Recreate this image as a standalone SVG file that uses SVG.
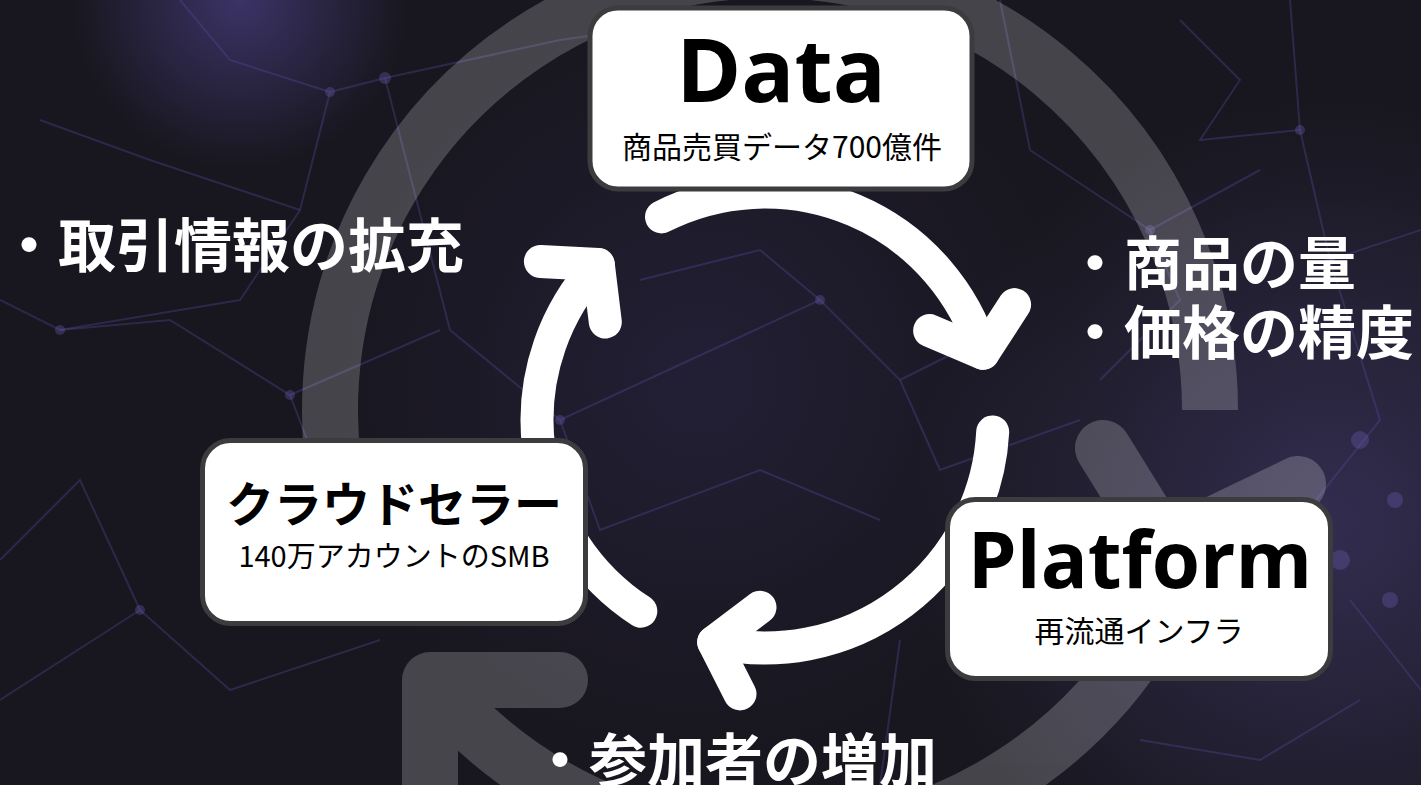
<svg xmlns="http://www.w3.org/2000/svg" width="1421" height="785" viewBox="0 0 1421 785">
  <defs>
    <radialGradient id="glowR" cx="1330" cy="520" r="420" gradientUnits="userSpaceOnUse">
      <stop offset="0" stop-color="#3b3560" stop-opacity="0.75"/>
      <stop offset="1" stop-color="#3b3560" stop-opacity="0"/>
    </radialGradient>
    <radialGradient id="glowT" cx="240" cy="0" r="170" gradientUnits="userSpaceOnUse">
      <stop offset="0" stop-color="#4b3f85" stop-opacity="0.7"/>
      <stop offset="1" stop-color="#4b3f85" stop-opacity="0"/>
    </radialGradient>
    <radialGradient id="glowM" cx="700" cy="380" r="380" gradientUnits="userSpaceOnUse">
      <stop offset="0" stop-color="#2a2545" stop-opacity="0.6"/>
      <stop offset="1" stop-color="#2a2545" stop-opacity="0"/>
    </radialGradient>
    <style>
      .net { fill: none; stroke: #564a9a; stroke-width: 2; stroke-opacity: 0.35; }
      .dot { fill: #6a5cb0; fill-opacity: 0.35; }
      .box { fill: #ffffff; stroke: #3c3c3e; stroke-width: 5; }
      .title { font-family: "Open Sans", "Noto Sans", sans-serif; font-weight: 700; fill: #000000; text-anchor: middle; }
      .jpTitle { font-family: "Noto Sans CJK JP", sans-serif; font-weight: 700; fill: #000000; text-anchor: middle; }
      .sub { font-family: "Noto Sans CJK JP", sans-serif; font-weight: 400; fill: #000000; text-anchor: middle; }
      .label { font-family: "Noto Sans CJK JP", sans-serif; font-weight: 700; fill: #ffffff; font-size: 58px; }
      .ring { fill: none; stroke: #ffffff; stroke-width: 56; }
      .arrow { fill: none; stroke: #ffffff; stroke-width: 33; stroke-linecap: round; stroke-linejoin: round; }
    </style>
  </defs>

  <!-- background -->
  <rect width="1421" height="785" fill="#18161e"/>
  <rect width="1421" height="785" fill="url(#glowM)"/>
  <rect width="1421" height="785" fill="url(#glowR)"/>
  <rect width="1421" height="785" fill="url(#glowT)"/>
  <g id="network">
    <polyline class="net" points="330,92 385,78 560,40 700,20"/>
    <polyline class="net" points="385,78 450,330 560,420 690,360"/>
    <polyline class="net" points="330,92 300,210 240,300 60,330 0,300"/>
    <polyline class="net" points="60,330 170,320 290,395 440,330"/>
    <polyline class="net" points="0,560 80,480 140,610 0,700"/>
    <polyline class="net" points="140,610 230,690 380,640"/>
    <polyline class="net" points="290,395 330,500 210,560"/>
    <polyline class="net" points="560,420 600,530 760,470 880,520"/>
    <polyline class="net" points="690,360 820,300 900,380 1000,330"/>
    <polyline class="net" points="820,300 760,250 640,280"/>
    <polyline class="net" points="900,380 940,470 1080,420"/>
    <polyline class="net" points="1000,0 1030,150 1150,230 1260,170"/>
    <polyline class="net" points="1180,20 1240,80 1200,140 1300,130"/>
    <polyline class="net" points="1290,0 1300,130 1330,260 1421,230"/>
    <polyline class="net" points="1150,230 1180,300 1100,380"/>
    <polyline class="net" points="1330,260 1380,420 1300,520"/>
    <polyline class="net" points="1350,600 1421,690"/>
    <polyline class="net" points="1360,700 1260,760 1140,740"/>
    <polyline class="net" points="900,640 880,785"/>
    <polyline class="net" points="180,0 230,60 330,92"/>
    <polyline class="net" points="40,120 150,160 300,210"/>
    <circle class="dot" cx="385" cy="78" r="6"/>
    <circle class="dot" cx="330" cy="92" r="5"/>
    <circle class="dot" cx="560" cy="420" r="5"/>
    <circle class="dot" cx="60" cy="330" r="5"/>
    <circle class="dot" cx="290" cy="395" r="5"/>
    <circle class="dot" cx="820" cy="300" r="5"/>
    <circle class="dot" cx="1150" cy="230" r="5"/>
    <circle class="dot" cx="1300" cy="130" r="5"/>
    <circle class="dot" cx="1330" cy="260" r="5"/>
    <circle class="dot" cx="140" cy="610" r="5"/>
    <circle class="dot" cx="1360" cy="440" r="9"/>
    <circle class="dot" cx="1395" cy="500" r="8"/>
    <circle class="dot" cx="1340" cy="560" r="10"/>
    <circle class="dot" cx="1390" cy="600" r="8"/>
    <circle class="dot" cx="1320" cy="640" r="9"/>
  </g>

  <!-- big translucent circular arrow -->
  <g id="cycle-ring" opacity="0.2">
    <path class="ring" d="M 356.5 560.5 A 440 440 0 1 1 1210 410"/>
    <path class="ring" d="M 1151 630 A 440 440 0 0 1 430 680"/>
    <polyline class="ring" points="1103,448 1165,548 1298,484" stroke-linecap="round" stroke-linejoin="round"/>
    <polyline class="ring" points="560,680 430,680 430,830" stroke-linecap="round" stroke-linejoin="round"/>
  </g>

  <!-- connectors: white circular arrows -->
  <g id="connectors">
    <g id="arrow-data-platform">
      <path class="arrow" d="M 661.5 216.9 A 228 228 0 0 1 983 353.3"/>
      <polyline class="arrow" points="929.6,330.6 983,353.3 1014.6,304.6"/>
    </g>
    <g id="arrow-platform-seller">
      <path class="arrow" d="M 992.7 431.9 A 228 228 0 0 1 713.7 642.2"/>
      <polyline class="arrow" points="760,607.3 713.7,642.2 740,693.9"/>
    </g>
    <g id="arrow-seller-data">
      <path class="arrow" d="M 640.8 611.2 A 228 228 0 0 1 598.3 264.5"/>
      <polyline class="arrow" points="540.4,261.5 598.3,264.5 605.3,322"/>
    </g>
  </g>

  <!-- nodes -->
  <g id="node-data">
    <rect class="box" x="590" y="8" width="382" height="181" rx="28"/>
    <text class="title" x="781" y="102" font-size="88">Data</text>
    <text class="sub" x="782" y="158" font-size="30">商品売買データ700億件</text>
  </g>
  <g id="node-seller">
    <rect class="box" x="202.5" y="440.5" width="383" height="183" rx="28"/>
    <text class="jpTitle" x="394" y="522" font-size="48">クラウドセラー</text>
    <text class="sub" x="394" y="567" font-size="29">140万アカウントのSMB</text>
  </g>
  <g id="node-platform">
    <rect class="box" x="947.5" y="499.5" width="383" height="179" rx="28"/>
    <text class="title" x="1140" y="588" font-size="78">Platform</text>
    <text class="sub" x="1139" y="642" font-size="30">再流通インフラ</text>
  </g>

  <!-- labels -->
  <g id="labels">
    <text class="label" x="0" y="267">・取引情報の拡充</text>
    <text class="label" x="1066" y="285">・商品の量</text>
    <text class="label" x="1066" y="354">・価格の精度</text>
    <text class="label" x="531" y="782">・参加者の増加</text>
  </g>
</svg>
